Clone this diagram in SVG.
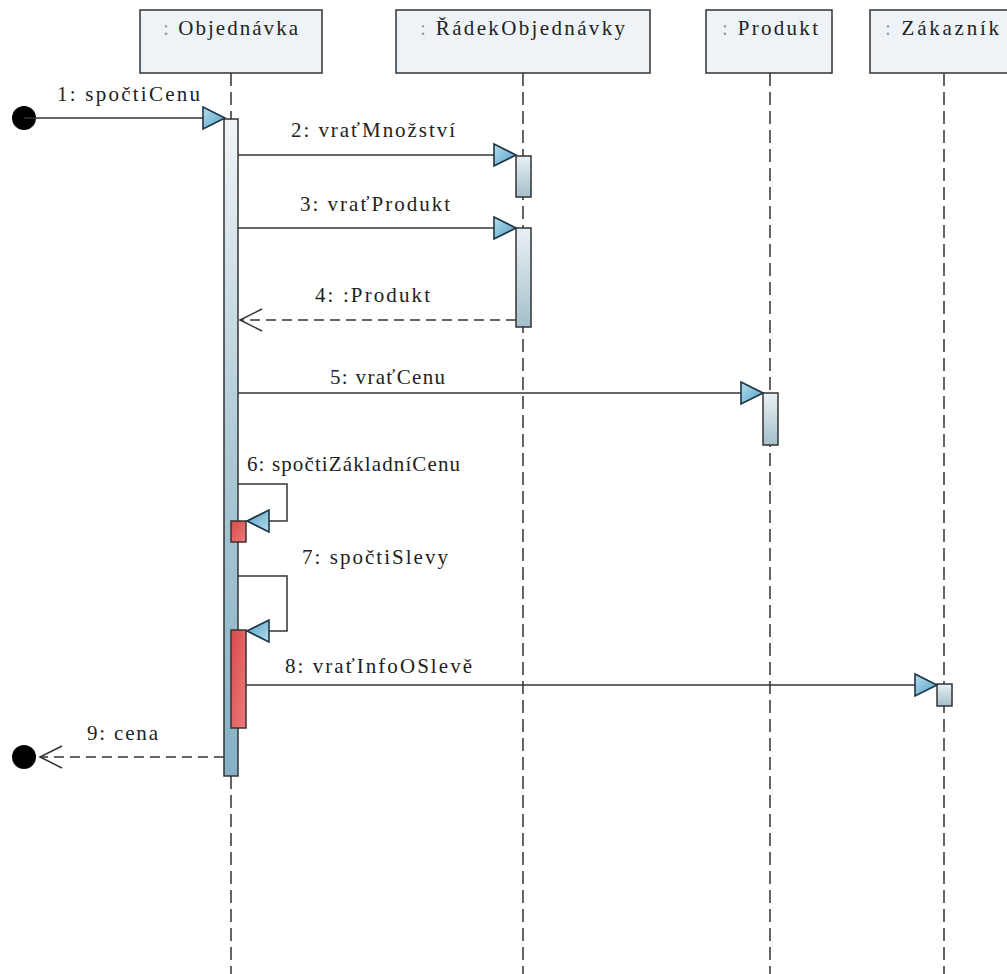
<svg xmlns="http://www.w3.org/2000/svg" width="1007" height="974" viewBox="0 0 1007 974" font-family="Liberation Serif, DejaVu Serif, Times New Roman, serif">
<defs>
<style>
.hdr{fill:#eef3f7;stroke:#333;stroke-width:1.5}
.life{stroke:#333;stroke-width:1.5;stroke-dasharray:13 6;fill:none}
.msg{stroke:#333;stroke-width:1.5;fill:none}
.ret{stroke:#333;stroke-width:1.5;fill:none;stroke-dasharray:10 6}
.act{fill:url(#actG);stroke:#333;stroke-width:1.5}
.main{fill:url(#mainG);stroke:#333;stroke-width:1.5}
.red{fill:url(#redG);stroke:#333;stroke-width:1.5}
.t{font-size:21px;fill:#222}
.colon{fill:#999}
</style>
<linearGradient id="mainG" x1="0" y1="0" x2="0" y2="1">
<stop offset="0" stop-color="#f0f4f7"/>
<stop offset="0.5" stop-color="#aec9d5"/>
<stop offset="1" stop-color="#86b1c5"/>
</linearGradient>
<linearGradient id="actG" x1="0" y1="0" x2="0" y2="1">
<stop offset="0" stop-color="#eaf1f4"/>
<stop offset="1" stop-color="#a4bfcb"/>
</linearGradient>
<linearGradient id="redG" x1="0" y1="0" x2="1" y2="1">
<stop offset="0" stop-color="#d84a4c"/>
<stop offset="1" stop-color="#ee7c7a"/>
</linearGradient>
<linearGradient id="triG" x1="0" y1="0" x2="1" y2="1">
<stop offset="0" stop-color="#b8e0ee"/>
<stop offset="1" stop-color="#4f9cc4"/>
</linearGradient>
<marker id="tri" markerUnits="userSpaceOnUse" markerWidth="24" markerHeight="24" refX="22" refY="11" orient="auto" overflow="visible">
<path d="M0,0 L22,11 L0,22 Z" fill="url(#triG)" stroke="#1e3545" stroke-width="1.6"/>
</marker>
<marker id="open" markerUnits="userSpaceOnUse" markerWidth="24" markerHeight="24" refX="22" refY="11" orient="auto" overflow="visible">
<path d="M0,0 L22,11 L0,22" fill="none" stroke="#333" stroke-width="1.5"/>
</marker>
</defs>
<rect width="1007" height="974" fill="#fff"/>

<g id="lifelines">
<line class="life" x1="231" y1="73" x2="231" y2="974"/>
<line class="life" x1="523" y1="73" x2="523" y2="974"/>
<line class="life" x1="770" y1="73" x2="770" y2="974"/>
<line class="life" x1="944" y1="73" x2="944" y2="974"/>
</g>

<g id="objednavka">
<rect class="hdr" x="140" y="10" width="182" height="63"/>
<text class="t" x="163" y="35" textLength="135" lengthAdjust="spacing"><tspan class="colon">:</tspan> Objednávka</text>
<rect class="main" x="224" y="119" width="14" height="657"/>
</g>

<g id="radekObjednavky">
<rect class="hdr" x="396" y="10" width="254" height="63"/>
<text class="t" x="420" y="35" textLength="205" lengthAdjust="spacing"><tspan class="colon">:</tspan> ŘádekObjednávky</text>
<rect class="act" x="516" y="156" width="15" height="41"/>
<rect class="act" x="516" y="228" width="15" height="99"/>
</g>

<g id="produkt">
<rect class="hdr" x="706" y="10" width="126" height="63"/>
<text class="t" x="722" y="35" textLength="96" lengthAdjust="spacing"><tspan class="colon">:</tspan> Produkt</text>
<rect class="act" x="763" y="393" width="15" height="52"/>
</g>

<g id="zakaznik">
<rect class="hdr" x="870" y="10" width="148" height="63"/>
<text class="t" x="885" y="35" textLength="114" lengthAdjust="spacing"><tspan class="colon">:</tspan> Zákazník</text>
<rect class="act" x="937" y="684" width="15" height="22"/>
</g>

<g id="selfcalls">
<rect class="red" x="231" y="521" width="15" height="21"/>
<rect class="red" x="231" y="630" width="15" height="98"/>
</g>

<g id="connectors">
<circle cx="24" cy="118" r="12" fill="#000"/>
<line class="msg" x1="24" y1="118" x2="225" y2="118" marker-end="url(#tri)"/>
<line class="msg" x1="238" y1="155" x2="516" y2="155" marker-end="url(#tri)"/>
<line class="msg" x1="238" y1="228" x2="516" y2="228" marker-end="url(#tri)"/>
<line class="ret" x1="516" y1="320" x2="240" y2="320" marker-end="url(#open)"/>
<line class="msg" x1="238" y1="393" x2="763" y2="393" marker-end="url(#tri)"/>
<path class="msg" d="M238,484 H287 V521 H247" marker-end="url(#tri)"/>
<path class="msg" d="M238,576 H287 V631 H247" marker-end="url(#tri)"/>
<line class="msg" x1="246" y1="685" x2="937" y2="685" marker-end="url(#tri)"/>
<line class="ret" x1="224" y1="757" x2="40" y2="757" marker-end="url(#open)"/>
<circle cx="24" cy="757" r="12" fill="#000"/>
</g>

<g id="labels">
<text class="t" x="57" y="101" textLength="143" lengthAdjust="spacing">1: spočtiCenu</text>
<text class="t" x="291" y="137" textLength="164" lengthAdjust="spacing">2: vraťMnožství</text>
<text class="t" x="300" y="211" textLength="150" lengthAdjust="spacing">3: vraťProdukt</text>
<text class="t" x="315" y="302" textLength="115" lengthAdjust="spacing">4: :Produkt</text>
<text class="t" x="330" y="384" textLength="115" lengthAdjust="spacing">5: vraťCenu</text>
<text class="t" x="247" y="471" textLength="213" lengthAdjust="spacing">6: spočtiZákladníCenu</text>
<text class="t" x="302" y="564" textLength="146" lengthAdjust="spacing">7: spočtiSlevy</text>
<text class="t" x="285" y="673" textLength="187" lengthAdjust="spacing">8: vraťInfoOSlevě</text>
<text class="t" x="87" y="740" textLength="71" lengthAdjust="spacing">9: cena</text>
</g>
</svg>
